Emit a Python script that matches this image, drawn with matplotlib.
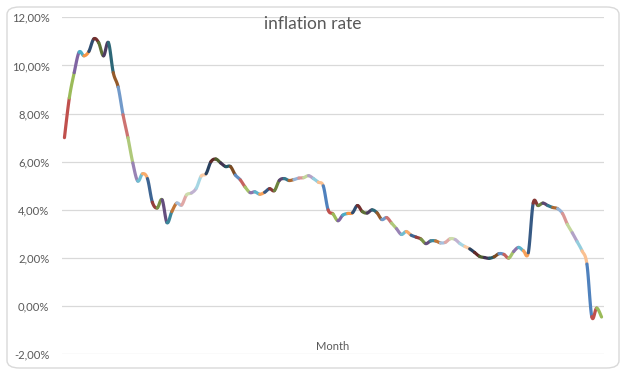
import matplotlib

matplotlib.use("Agg")

import matplotlib.pyplot as plt  # noqa: E402
import numpy as np  # noqa: E402
from matplotlib.collections import LineCollection  # noqa: E402
from matplotlib.colors import to_rgb  # noqa: E402
from matplotlib.patches import FancyBboxPatch  # noqa: E402
from matplotlib.ticker import FuncFormatter  # noqa: E402

TITLE = "inflation rate"
X_TITLE = "Month"

# monthly inflation rate in %
rate = [
    7.00, 8.65, 9.70, 10.55, 10.40, 10.58, 11.10, 10.95, 10.40, 10.95,
    9.70, 9.10, 7.95, 7.00, 5.95, 5.20, 5.50, 5.30, 4.32, 4.08,
    4.42, 3.47, 3.93, 4.28, 4.20, 4.62, 4.70, 4.90, 5.40, 5.50,
    6.00, 6.11, 5.95, 5.80, 5.80, 5.45, 5.25, 4.95, 4.72, 4.75,
    4.65, 4.73, 4.88, 4.80, 5.22, 5.30, 5.22, 5.26, 5.32, 5.34,
    5.42, 5.30, 5.15, 5.00, 4.00, 3.83, 3.55, 3.78, 3.85, 3.88,
    4.18, 3.93, 3.87, 4.00, 3.88, 3.60, 3.68, 3.45, 3.22, 2.98,
    3.10, 2.95, 2.87, 2.79, 2.60, 2.71, 2.71, 2.63, 2.65, 2.80,
    2.77, 2.60, 2.48, 2.38, 2.23, 2.07, 2.02, 1.99, 2.05, 2.18,
    2.15, 2.00, 2.27, 2.44, 2.30, 2.22, 4.28, 4.18, 4.28, 4.18,
    4.10, 4.05, 3.85, 3.40, 3.05, 2.68, 2.30, 1.75, -0.44, -0.08,
    -0.45,
]
y_ticks = [-2, 0, 2, 4, 6, 8, 10, 12]

# Office 2010 accent colours; "vary colours by point" walks them in blocks
# of six, alternating darker and lighter variants
ACCENTS = ["#4F81BD", "#C0504D", "#9BBB59", "#8064A2", "#4BACC6", "#F79646"]
VARIANTS = [("base", 0), ("shade", 0.6), ("tint", 0.2), ("shade", 0.78), ("tint", 0.5),
            ("shade", 0.5), ("tint", 0.1), ("shade", 0.7), ("tint", 0.4)]
TEXT = "#595959"
GRID = "#D9D9D9"


def point_color(i):
    base = np.array(to_rgb(ACCENTS[i % 6]))
    kind, f = VARIANTS[(i // 6) % len(VARIANTS)]
    if kind == "shade":
        return tuple(base * f)
    if kind == "tint":
        return tuple(base + (1 - base) * f)
    return tuple(base)


def smooth_segments(x, y, steps=16):
    # Excel-style smoothed line: cubic Bezier per segment, control points
    # from the neighbouring points (Catmull-Rom, tension 1/6)
    p = np.column_stack([x, y])
    p_ext = np.vstack([p[0], p, p[-1]])
    t = np.linspace(0, 1, steps)[:, None]
    segs = []
    for i in range(len(p) - 1):
        p0, p1, p2, p3 = p_ext[i], p_ext[i + 1], p_ext[i + 2], p_ext[i + 3]
        c1 = p1 + (p2 - p0) / 6
        c2 = p2 - (p3 - p1) / 6
        curve = ((1 - t) ** 3) * p1 + 3 * ((1 - t) ** 2) * t * c1 + 3 * (1 - t) * t ** 2 * c2 + t ** 3 * p2
        segs.append(curve)
    return segs


plt.rcParams["font.family"] = ["Lato", "DejaVu Sans"]

fig = plt.figure(figsize=(6.25, 3.75), dpi=100)
fig.patch.set_facecolor("white")
frame = FancyBboxPatch((7 / 625, 7 / 375), 612 / 625, 361 / 375,
                       boxstyle="round,pad=0,rounding_size=0.02",
                       transform=fig.transFigure, facecolor="none",
                       edgecolor=GRID, lw=1.0, zorder=-5)
fig.add_artist(frame)

ax = fig.add_axes([62 / 625, 20.7 / 375, 542 / 625, 337 / 375])
ax.set_facecolor("none")

x = np.arange(len(rate))
segs = smooth_segments(x, np.array(rate))
colors = [point_color(i + 1) for i in range(len(segs))]
lc = LineCollection(segs, colors=colors, linewidths=2.3, capstyle="round", zorder=3)
ax.add_collection(lc)

ax.set_xlim(-0.5, len(rate) - 0.5)
ax.set_ylim(-2, 12)
ax.set_yticks(y_ticks)
ax.yaxis.set_major_formatter(FuncFormatter(lambda v, _: f"{v:.2f}%".replace(".", ",")))
ax.set_xticks([])
ax.tick_params(axis="y", length=0, pad=9, labelsize=8.1, labelcolor=TEXT)
ax.grid(axis="y", color=GRID, lw=0.9)
for s in ax.spines.values():
    s.set_visible(False)

fig.text(0.5, 0.936, TITLE, ha="center", va="center", fontsize=12.5, color=TEXT)
fig.text(333 / 625, 1 - 346 / 375, X_TITLE, ha="center", va="center", fontsize=8, color=TEXT)

fig.savefig("out.png", dpi=100)
plt.close(fig)
